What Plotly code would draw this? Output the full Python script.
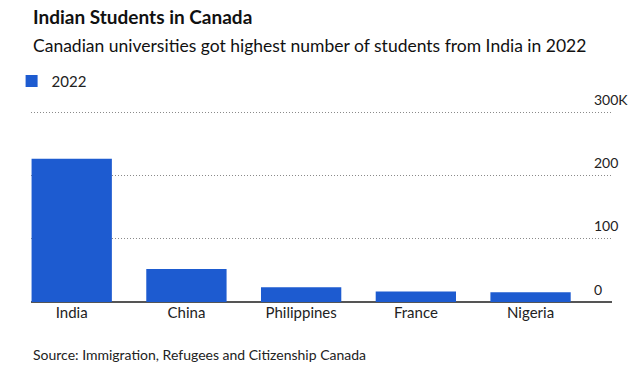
import plotly.graph_objects as go

# ---- data ----
countries = ["India", "China", "Philippines", "France", "Nigeria"]
students_k = [226.45, 52.2, 23.4, 16.4, 15.5]   # thousands, 2022
series_name = "2022"
ytick_vals = [0, 100, 200, 300]
ytick_text = ["0", "100", "200", "300K"]

title = "Indian Students in Canada"
subtitle = "Canadian universities got highest number of students from India in 2022"
source = "Source: Immigration, Refugees and Citizenship Canada"

FONT = "Lato, 'Source Sans Pro', 'Noto Sans', sans-serif"
BAR = "#1d5bd0"
TXT = "#222222"

W, H = 635, 376
YMAX = 305
PL, PR, PB = 13, 612, 302            # plot box in px
PT = PB - YMAX * (PB - 112) / 300     # so that 300K sits at y=112


def py(y_px):
    return (PB - y_px) / (PB - PT)


def px(x_px):
    return (x_px - PL) / (PR - PL)


fig = go.Figure()
fig.add_trace(go.Bar(
    x=countries, y=students_k, name=series_name,
    marker=dict(color=BAR, line=dict(width=0)),
    width=0.70, showlegend=True,
))

annotations = [
    dict(text=title, x=0, y=py(16), xref="paper", yref="paper", xanchor="left",
         yanchor="middle", showarrow=False,
         font=dict(family=FONT, size=19, color="#111111", weight="bold")),
    dict(text=subtitle, x=0, y=py(45), xref="paper", yref="paper", xanchor="left",
         yanchor="middle", showarrow=False,
         font=dict(family=FONT, size=17.5, color="#111111")),
    dict(text=source, x=0, y=py(355), xref="paper", yref="paper", xanchor="left",
         yanchor="middle", showarrow=False,
         font=dict(family=FONT, size=14, color=TXT)),
]
for v, t in zip(ytick_vals, ytick_text):
    annotations.append(dict(text=t, x=px(591), y=v, xref="paper", yref="y",
                            xanchor="left", yanchor="middle", yshift=13,
                            showarrow=False,
                            font=dict(family=FONT, size=14, color=TXT)))

fig.update_layout(
    width=W, height=H,
    margin=dict(l=PL, r=W - PR, t=PT, b=H - PB, pad=0),
    paper_bgcolor="white", plot_bgcolor="white",
    font=dict(family=FONT, color=TXT),
    bargap=0.3,
    showlegend=True,
    legend=dict(orientation="h", x=px(-7), y=py(81), xanchor="left", yanchor="middle",
                font=dict(family=FONT, size=15, color=TXT), bgcolor="rgba(0,0,0,0)",
                itemclick=False, itemwidth=30),
    xaxis=dict(type="category", range=[-0.355, 4.71], showgrid=False,
               showline=False, ticks="", tickfont=dict(family=FONT, size=15, color=TXT),
               fixedrange=True),
    yaxis=dict(range=[0, YMAX], tickvals=ytick_vals, showticklabels=False,
               showgrid=True, gridcolor="#8a8a8a", griddash="1px,2px", gridwidth=1,
               zeroline=True, zerolinecolor="#555555", zerolinewidth=1.5,
               fixedrange=True),
    annotations=annotations,
)

fig.write_html("out.html", config={"displayModeBar": False},
               post_script="document.body.style.margin='0';")
